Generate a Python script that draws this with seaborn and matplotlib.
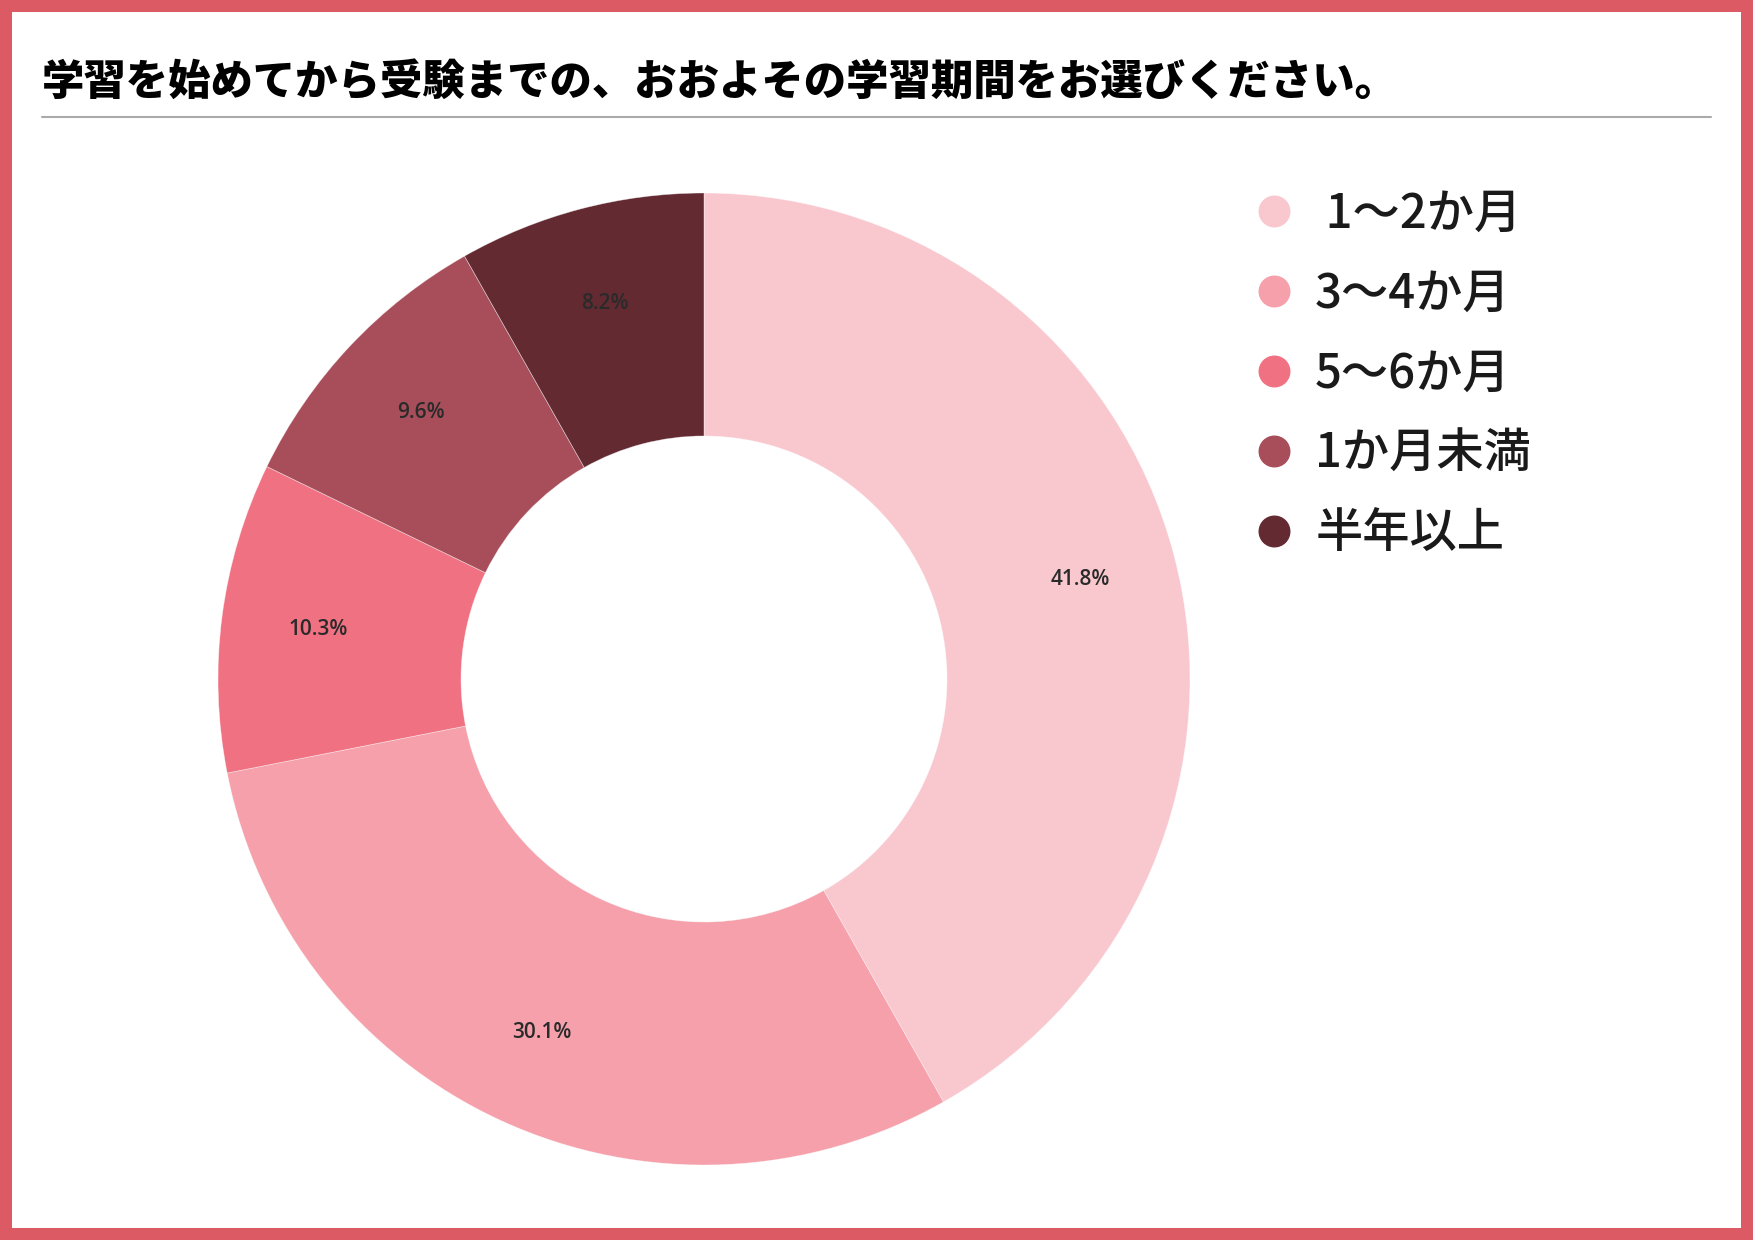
import matplotlib
matplotlib.use("Agg")
import matplotlib.pyplot as plt
import seaborn as sns
from matplotlib.lines import Line2D
from matplotlib.patches import Rectangle

sns.set_theme(style="white")
plt.rcParams['font.family'] = ['Noto Sans CJK JP', 'DejaVu Sans']
plt.rcParams['text.color'] = '#1a1a1a'

title = "学習を始めてから受験までの、おおよその学習期間をお選びください。"
categories = [" 1～2か月", "3～4か月", "5～6か月", "1か月未満", "半年以上"]
values = [41.8, 30.1, 10.3, 9.6, 8.2]
colors = ["#f9c8cf", "#f5a0aa", "#f07282", "#a84e5b", "#632a32"]

W, H = 1753, 1240
fig = plt.figure(figsize=(W / 100, H / 100), dpi=100)
fig.patch.set_facecolor("white")

# border
bw = 12
fig.patches.append(Rectangle((bw / 2 / W, bw / 2 / H), 1 - bw / W, 1 - bw / H,
                             transform=fig.transFigure, fill=False,
                             edgecolor="#dc5a63", linewidth=bw * 0.72, zorder=10))

# title and rule
fig.text(42 / W, 1 - 83 / H, title, fontsize=30.5, fontweight="black",
         color="black", ha="left", va="center")
fig.add_artist(Line2D([42 / W, 1711 / W], [1 - 117 / H, 1 - 117 / H],
                      transform=fig.transFigure, color="#aaaaaa", linewidth=1.5))

# donut
cx, cy, r = 704, 679, 486
ax = fig.add_axes([(cx - r) / W, (H - cy - r) / H, 2 * r / W, 2 * r / H])
wedges, _, autotexts = ax.pie(values, colors=colors, startangle=90, counterclock=False,
                              autopct="%.1f%%", pctdistance=0.8, radius=1.0,
                              wedgeprops=dict(width=0.5, edgecolor="#ffffff80", linewidth=0.5),
                              textprops=dict(fontsize=15, color="#2a2a2a", weight="semibold",
                                             family=['Open Sans', 'DejaVu Sans']))
ax.set_xlim(-1, 1)
ax.set_ylim(-1, 1)
ax.set_aspect("equal")
ax.axis("off")

handles = [Line2D([0], [0], marker="o", linestyle="none", markersize=22,
                  markerfacecolor=c, markeredgecolor=c) for c in colors]
fig.legend(handles, categories, loc="upper left",
           bbox_to_anchor=(1250 / W, 1 - 190 / H), frameon=False,
           prop=dict(size=34, weight="medium"),
           handlelength=1.0, handletextpad=0.38, labelspacing=0.655,
           borderaxespad=0, borderpad=0)

fig.savefig("out.png", dpi=100, facecolor="white")
